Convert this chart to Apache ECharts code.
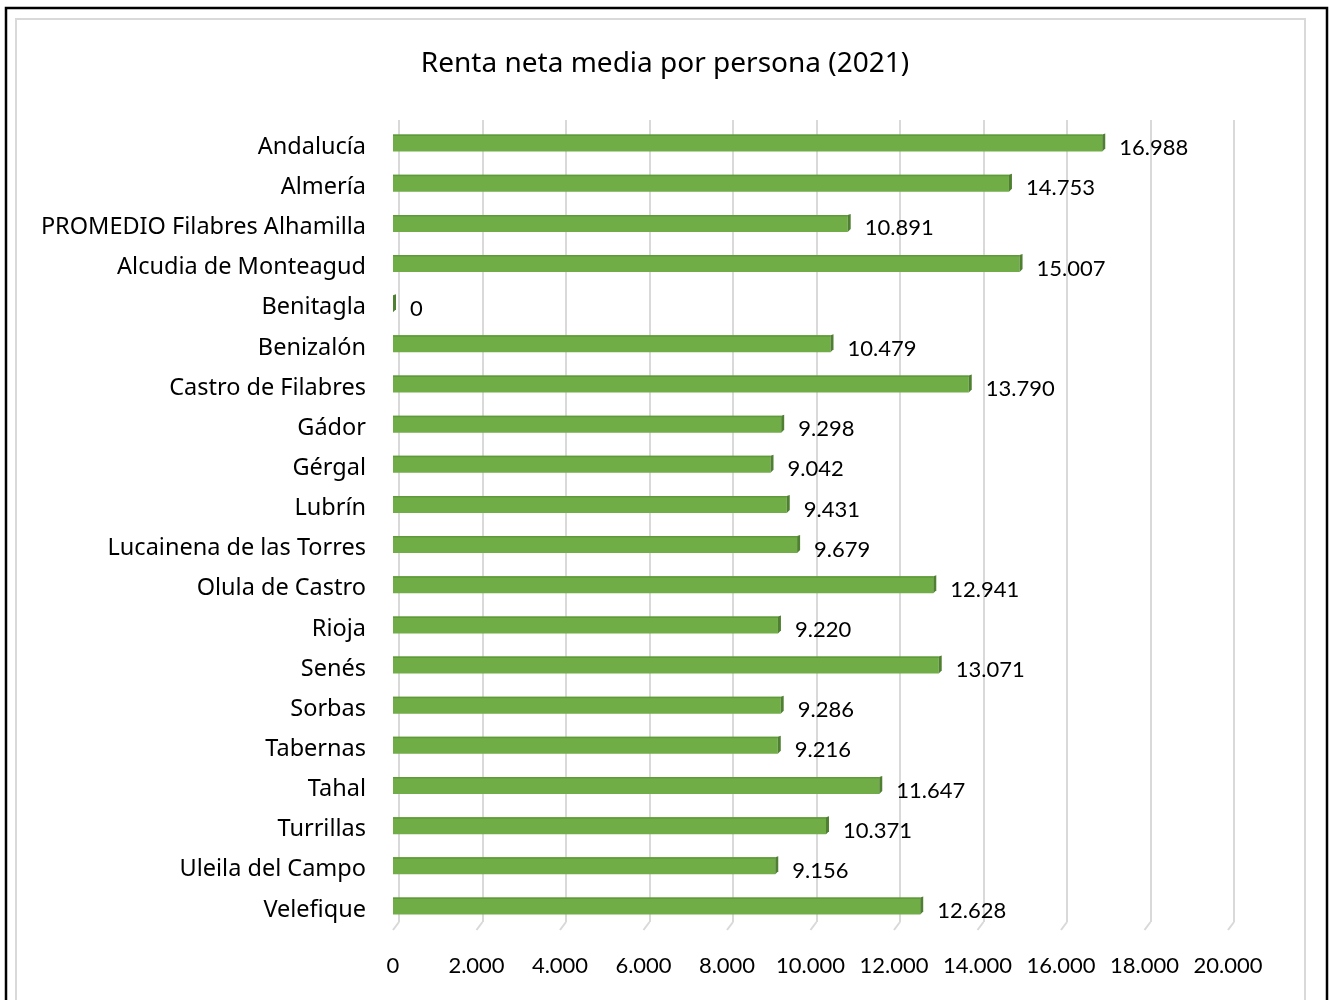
<!DOCTYPE html>
<html>
<head>
<meta charset="utf-8">
<script src="https://cdn.jsdelivr.net/npm/echarts@6/dist/echarts.min.js"></script>
<style>
  html, body { margin: 0; padding: 0; background: #fff; }
  #chart { width: 1330px; height: 1000px; }
</style>
</head>
<body>
<div id="chart"></div>
<script>
var categories = ['Andalucía', 'Almería', 'PROMEDIO Filabres Alhamilla', 'Alcudia de Monteagud', 'Benitagla',
    'Benizalón', 'Castro de Filabres', 'Gádor', 'Gérgal', 'Lubrín', 'Lucainena de las Torres',
    'Olula de Castro', 'Rioja', 'Senés', 'Sorbas', 'Tabernas', 'Tahal', 'Turrillas',
    'Uleila del Campo', 'Velefique'];
var renta = [16988, 14753, 10891, 15007, 0, 10479, 13790, 9298, 9042, 9431, 9679,
    12941, 9220, 13071, 9286, 9216, 11647, 10371, 9156, 12628];
var xTicks = [0, 2000, 4000, 6000, 8000, 10000, 12000, 14000, 16000, 18000, 20000];

var NUMFONT = 'Lato';
var TXTFONT = 'Noto Sans';
var DEPTH = 6;

function fmt(v) {
    return String(v).replace(/\B(?=(\d{3})+(?!\d))/g, '.');
}

var chart = echarts.init(document.getElementById('chart'));

var option = {
    backgroundColor: '#fff',
    animation: false,
    title: {
        text: 'Renta neta media por persona (2021)',
        left: 'center',
        top: 45,
        textStyle: { fontFamily: TXTFONT, fontSize: 28, fontWeight: 'normal', color: '#000' }
    },
    graphic: [
        { type: 'rect', shape: { x: 6, y: 8, width: 1321, height: 1010 },
          style: { fill: 'none', stroke: '#000', lineWidth: 2.5 }, z: 100 },
        { type: 'rect', shape: { x: 16, y: 19, width: 1289, height: 1000 },
          style: { fill: 'none', stroke: '#d9d9d9', lineWidth: 2 }, z: 100 }
    ],
    grid: [
        // pared del fondo (líneas de división)
        { left: 393 + DEPTH, top: 120, width: 835, height: 802 },
        // barras
        { left: 393, top: 127, width: 835, height: 803 }
    ],
    xAxis: [
        {
            gridIndex: 0, type: 'value', min: 0, max: 20000, interval: 2000,
            axisLine: { show: false }, axisTick: { show: false }, axisLabel: { show: false },
            splitLine: { lineStyle: { color: '#d9d9d9', width: 2 } }
        },
        {
            gridIndex: 1, type: 'value', min: 0, max: 20000, interval: 2000,
            axisLine: { show: false }, axisTick: { show: false }, splitLine: { show: false },
            axisLabel: {
                fontFamily: NUMFONT, fontSize: 22, color: '#000', margin: 25,
                formatter: function (v) { return fmt(v); }
            }
        }
    ],
    yAxis: [
        {
            gridIndex: 0, type: 'category', data: categories, inverse: true, show: false
        },
        {
            gridIndex: 1, type: 'category', data: categories, inverse: true,
            axisLine: { show: false }, axisTick: { show: false },
            axisLabel: { fontFamily: TXTFONT, fontSize: 23.5, color: '#000', margin: 27, padding: [6, 0, 0, 0] }
        }
    ],
    series: [
        {
            name: 'suelo',
            type: 'custom',
            xAxisIndex: 1, yAxisIndex: 1,
            data: xTicks.map(function (t) { return [t, 0]; }),
            silent: true,
            renderItem: function (params, api) {
                var cs = params.coordSys;
                var x = api.coord([api.value(0), 0])[0];
                return {
                    type: 'line',
                    shape: { x1: x + DEPTH, y1: cs.y - 8 + cs.height, x2: x, y2: cs.y + cs.height },
                    style: { stroke: '#d9d9d9', lineWidth: 2 }
                };
            }
        },
        {
            name: 'Renta',
            type: 'custom',
            xAxisIndex: 1, yAxisIndex: 1,
            data: renta.map(function (v, i) { return [v, i]; }),
            renderItem: function (params, api) {
                var v = api.value(0);
                var p0 = api.coord([0, api.value(1)]);
                var p1 = api.coord([v, api.value(1)]);
                var h = 17;
                var yTop = p0[1] - 4 - h / 2;
                var w = p1[0] - p0[0];
                return {
                    type: 'group',
                    children: [
                        { type: 'rect', shape: { x: p0[0], y: yTop, width: w, height: h },
                          style: { fill: '#70ad47' } },
                        { type: 'rect', shape: { x: p0[0], y: yTop, width: w, height: 1.5 },
                          style: { fill: '#5f9a3a' } },
                        { type: 'polygon',
                          shape: { points: [[p1[0], yTop], [p1[0] + 3, yTop - 1], [p1[0] + 3, yTop + h - 3], [p1[0], yTop + h]] },
                          style: { fill: '#4f7f30' } },
                        { type: 'text',
                          style: { text: fmt(v), x: p1[0] + 17, y: p0[1] + 1, verticalAlign: 'middle',
                                   font: '22px ' + NUMFONT, fill: '#000' } }
                    ]
                };
            }
        }
    ]
};

chart.setOption(option);
</script>
</body>
</html>
